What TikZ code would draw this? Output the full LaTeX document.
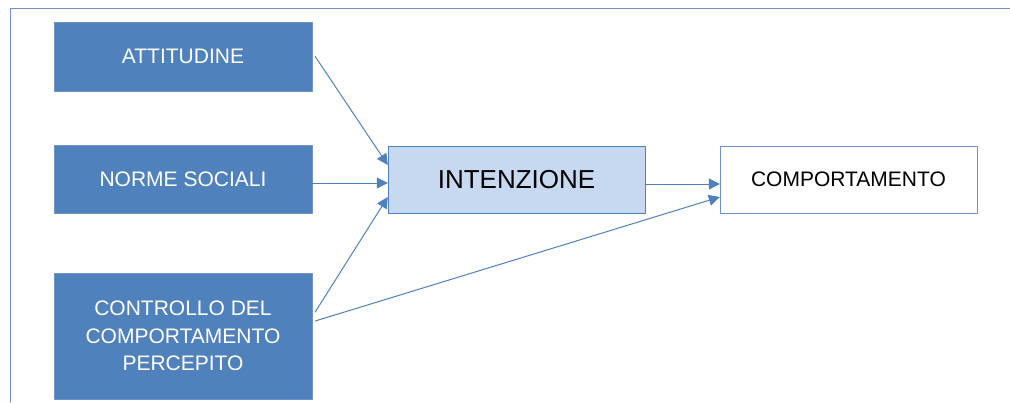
\documentclass[tikz,border=0pt]{standalone}
\usepackage{fontspec}
\setmainfont{Liberation Sans}
\usepackage{xcolor}
\usetikzlibrary{calc, positioning}
\usetikzlibrary{arrows.meta}

\definecolor{boxblue}{HTML}{4F81BD}
\definecolor{lightblue}{HTML}{C6D9F1}
\definecolor{edgeblue}{HTML}{7092C4}

\begin{document}
\begin{tikzpicture}[x=1pt,y=-1pt,line cap=round,line join=round,
  factor/.style={draw=edgeblue,fill=boxblue,text=white,inner sep=0pt,
    minimum width=258pt,align=center,
    font=\fontsize{21}{27.5}\selectfont},
  link/.style={boxblue,line width=1pt,-{Triangle[length=11pt,width=11pt]}}]
\path[use as bounding box] (0,0) rectangle (1010,402);

% frame
\draw[edgeblue,line width=1pt] (10,402) -- (10,8) -- (1010,8);

% the three factors
\node[factor,minimum height=69pt] (att) at (183,56.5) {ATTITUDINE};
\node[factor,minimum height=68pt] (nor) at (183,179) {NORME SOCIALI};
\node[factor,minimum height=126pt] (ctl) at (183,336)
  {CONTROLLO DEL\\COMPORTAMENTO\\PERCEPITO};

\node[draw=boxblue,fill=lightblue,inner sep=0pt,minimum width=257pt,
  minimum height=67pt,font=\fontsize{26}{30}\selectfont]
  (int) at (516.5,179.5) {INTENZIONE};
\node[draw=edgeblue,fill=white,inner sep=0pt,minimum width=257pt,
  minimum height=67pt,font=\fontsize{21}{26}\selectfont]
  (beh) at (848.5,179.5) {COMPORTAMENTO};

% arrows
\draw[link] ($(att.east)+(3,0)$) -- ($(int.west)+(0,-14.5)$);
\draw[link] ($(nor.east)+(0,4)$) -- ($(int.west)+(0,3.5)$);
\draw[link] ($(ctl.east)+(3,-24)$) -- ($(int.west)+(0,17.5)$);
\draw[link] ($(ctl.east)+(3,-15)$) -- ($(beh.west)+(0,17.5)$);
\draw[link] ($(int.east)+(0,4.5)$) -- ($(beh.west)+(0,4.5)$);
\end{tikzpicture}
\end{document}
